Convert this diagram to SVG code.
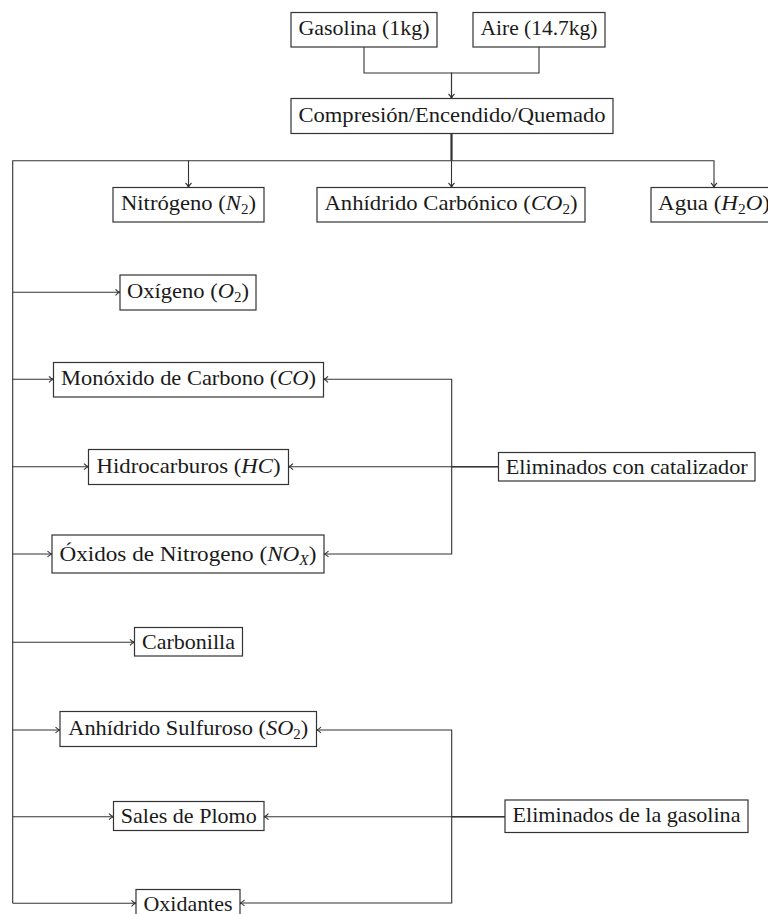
<svg xmlns="http://www.w3.org/2000/svg" width="768" height="914" viewBox="0 0 768 914">
<style>
.box{fill:#fff;stroke:#333;stroke-width:1.2}
.t{font-family:"Liberation Serif","Times New Roman",serif;font-size:21px;fill:#1a1a1a;text-anchor:middle}
.m{font-style:italic}
.s{font-size:14px}
.c{fill:none;stroke:#333;stroke-width:1.1}
</style>
<defs>
<marker id="a" markerUnits="userSpaceOnUse" markerWidth="10" markerHeight="10" refX="0" refY="0" viewBox="-6 -5 8 10" orient="auto">
<path d="M-4.5,-3 C-3,-1.2 -1.5,-0.4 0,0 C-1.5,0.4 -3,1.2 -4.5,3" fill="none" stroke="#333" stroke-width="1.1"/>
</marker>
</defs>
<g id="connectors">
<path class="c" d="M364,47 V73 H451.5 V98.5" marker-end="url(#a)"/>
<path class="c" d="M539,47 V73 H451.5 V98.5"/>
<path class="c" d="M451.5,133.5 V160.7" style="stroke-width:2.2"/>
<path class="c" d="M451.5,160.7 H188.5 V187.5" marker-end="url(#a)"/>
<path class="c" d="M451.5,160.7 V187.5" marker-end="url(#a)"/>
<path class="c" d="M451.5,160.7 H714 V187.5" marker-end="url(#a)"/>
<path class="c" d="M188.5,160.7 H12.7 V903.3"/>
<path class="c" d="M12.7,292.3 H120" marker-end="url(#a)"/>
<path class="c" d="M12.7,379.3 H53.5" marker-end="url(#a)"/>
<path class="c" d="M12.7,466.7 H88.5" marker-end="url(#a)"/>
<path class="c" d="M12.7,554 H52" marker-end="url(#a)"/>
<path class="c" d="M12.7,642.3 H134.5" marker-end="url(#a)"/>
<path class="c" d="M12.7,730 H60" marker-end="url(#a)"/>
<path class="c" d="M12.7,816.7 H113.5" marker-end="url(#a)"/>
<path class="c" d="M12.7,903.3 H136" marker-end="url(#a)"/>
<path class="c" d="M498.5,466.7 H451.7 V379.3 H323.5" marker-end="url(#a)"/>
<path class="c" d="M498.5,466.7 H288.5" marker-end="url(#a)"/>
<path class="c" d="M498.5,466.7 H451.7 V554 H324" marker-end="url(#a)"/>
<path class="c" d="M505,816.7 H451.7 V730 H316.5" marker-end="url(#a)"/>
<path class="c" d="M505,816.7 H264" marker-end="url(#a)"/>
<path class="c" d="M505,816.7 H451.7 V903 H240" marker-end="url(#a)"/>
</g>
<g id="gasolina"><rect class="box" x="291" y="12.5" width="146" height="34.5"/><text class="t" x="364" y="35" textLength="131" lengthAdjust="spacingAndGlyphs">Gasolina (1kg)</text></g>
<g id="aire"><rect class="box" x="473" y="12.5" width="132" height="34.5"/><text class="t" x="539" y="35" textLength="117" lengthAdjust="spacingAndGlyphs">Aire (14.7kg)</text></g>
<g id="compresion"><rect class="box" x="291" y="98.5" width="322" height="35"/><text class="t" x="452" y="122" textLength="307" lengthAdjust="spacingAndGlyphs">Compresión/Encendido/Quemado</text></g>
<g id="nitrogeno"><rect class="box" x="113" y="187.5" width="151" height="34.5"/><text class="t" x="188.5" y="210" textLength="135" lengthAdjust="spacingAndGlyphs">Nitrógeno (<tspan class="m">N</tspan><tspan class="s" dy="4">2</tspan><tspan dy="-4">)</tspan></text></g>
<g id="co2"><rect class="box" x="317" y="187.5" width="268" height="34.5"/><text class="t" x="451" y="210" textLength="253" lengthAdjust="spacingAndGlyphs">Anhídrido Carbónico (<tspan class="m">CO</tspan><tspan class="s" dy="4">2</tspan><tspan dy="-4">)</tspan></text></g>
<g id="agua"><rect class="box" x="651" y="187.5" width="130" height="34.5"/><text class="t" x="658" y="210" style="text-anchor:start" textLength="112" lengthAdjust="spacingAndGlyphs">Agua (<tspan class="m">H</tspan><tspan class="s" dy="4">2</tspan><tspan class="m" dy="-4">O</tspan>)</text></g>
<g id="oxigeno"><rect class="box" x="120" y="275" width="136" height="35"/><text class="t" x="188" y="298" textLength="122" lengthAdjust="spacingAndGlyphs">Oxígeno (<tspan class="m">O</tspan><tspan class="s" dy="4">2</tspan><tspan dy="-4">)</tspan></text></g>
<g id="monoxido"><rect class="box" x="53.5" y="362.5" width="270" height="34.5"/><text class="t" x="188.5" y="385" textLength="255" lengthAdjust="spacingAndGlyphs">Monóxido de Carbono (<tspan class="m">CO</tspan>)</text></g>
<g id="hidrocarburos"><rect class="box" x="88.5" y="449.5" width="200" height="35"/><text class="t" x="188.5" y="472.5" textLength="184" lengthAdjust="spacingAndGlyphs">Hidrocarburos (<tspan class="m">HC</tspan>)</text></g>
<g id="oxidos"><rect class="box" x="52" y="535" width="272" height="38"/><text class="t" x="188" y="560.5" textLength="257" lengthAdjust="spacingAndGlyphs">Óxidos de Nitrogeno (<tspan class="m">NO</tspan><tspan class="s m" dy="4">X</tspan><tspan dy="-4">)</tspan></text></g>
<g id="catalizador"><rect class="box" x="498.5" y="452.5" width="256.5" height="28.5"/><text class="t" x="626.75" y="474" textLength="242" lengthAdjust="spacingAndGlyphs">Eliminados con catalizador</text></g>
<g id="carbonilla"><rect class="box" x="134.5" y="627.5" width="108" height="28.5"/><text class="t" x="188.5" y="648.5" textLength="93" lengthAdjust="spacingAndGlyphs">Carbonilla</text></g>
<g id="so2"><rect class="box" x="60" y="711.5" width="256.5" height="35"/><text class="t" x="188.25" y="734.5" textLength="240" lengthAdjust="spacingAndGlyphs">Anhídrido Sulfuroso (<tspan class="m">SO</tspan><tspan class="s" dy="4">2</tspan><tspan dy="-4">)</tspan></text></g>
<g id="sales"><rect class="box" x="113.5" y="801.5" width="150.5" height="29"/><text class="t" x="188.75" y="823" textLength="136" lengthAdjust="spacingAndGlyphs">Sales de Plomo</text></g>
<g id="gasolina2"><rect class="box" x="505" y="800" width="243" height="32.5"/><text class="t" x="626.5" y="822" textLength="228" lengthAdjust="spacingAndGlyphs">Eliminados de la gasolina</text></g>
<g id="oxidantes"><rect class="box" x="136" y="889.5" width="104" height="30"/><text class="t" x="188" y="910.5" textLength="89" lengthAdjust="spacingAndGlyphs">Oxidantes</text></g>
</svg>
